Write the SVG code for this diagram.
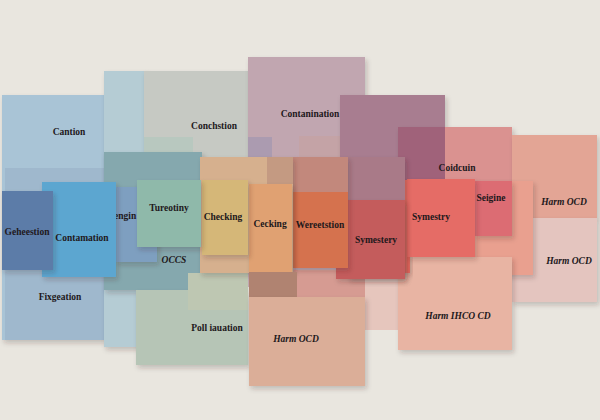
<svg xmlns="http://www.w3.org/2000/svg" width="600" height="420" viewBox="0 0 600 420">
<defs>
<filter id="sh" x="-10%" y="-10%" width="130%" height="130%">
<feDropShadow dx="2" dy="3" stdDeviation="2.5" flood-color="#3a2a20" flood-opacity="0.22"/>
</filter>
</defs>
<style>
.b{filter:url(#sh)}
.t{font-family:"Liberation Serif","DejaVu Serif",serif;font-weight:bold;font-size:9.5px;fill:#21181b;text-anchor:middle}
.i{font-style:italic}
</style>
<rect width="600" height="420" fill="#e9e6df"/>
<g id="cantion"><rect class="b" x="2" y="95" width="103" height="245" fill="#a9c4d6"/><rect x="5" y="168" width="100" height="172" fill="#9fb8cd"/><text class="t" x="69" y="135">Cantion</text><text class="t" x="60" y="300">Fixgeation</text></g>
<g id="column"><rect class="b" x="104" y="71" width="42" height="276" fill="#b5ccd4"/></g>
<g id="conchstion"><rect class="b" x="144" y="71" width="104" height="110" fill="#c6c9c3"/><rect x="144" y="137" width="49" height="30" fill="#b8c8bf"/><text class="t" x="214" y="129">Conchstion</text></g>
<g id="contanination"><rect class="b" x="248" y="57" width="117" height="230" fill="#c1a6b0"/><rect x="248" y="137" width="24" height="20" fill="#ab9bb0"/><rect x="299" y="136" width="41" height="21" fill="#c4a3a6"/><text class="t" x="310" y="116.5">Contanination</text></g>
<g id="teal"><rect class="b" x="104" y="152" width="98" height="138" fill="#85a8ae"/></g>
<g id="pollination"><rect class="b" x="136" y="290" width="112" height="75" fill="#b6c5b6"/><rect x="188" y="273" width="60" height="37" fill="#bec7b2"/><text class="t" x="217" y="330.5">Poll iauation</text></g>
<g id="purple"><rect class="b" x="340" y="95" width="105" height="105" fill="#a87d90"/></g>
<g id="coidcuin"><rect class="b" x="398" y="127" width="114" height="109" fill="#da9290"/><rect x="398" y="127" width="47" height="73" fill="#a0627a"/><text class="t" x="457" y="170.5">Coidcuin</text></g>
<g id="harm1"><rect class="b" x="512" y="135" width="85" height="83" fill="#e3a595"/><text class="t i" x="564" y="204.5">Harm OCD</text></g>
<g id="harm2"><rect class="b" x="512" y="218" width="85" height="84" fill="#e4c5bf"/><text class="t i" x="569" y="263.5">Harm OCD</text></g>
<g id="orange"><rect class="b" x="475" y="181" width="58" height="94" fill="#e9a08f"/></g>
<g id="seigine"><rect class="b" x="475" y="181" width="37" height="55" fill="#dc6c73"/><text class="t" x="491" y="200.5">Seigine</text></g>
<g id="pink"><rect x="293" y="270" width="105" height="35" fill="#d69b92"/><rect x="365" y="270" width="33" height="60" fill="#e6c6bd"/></g>
<g id="harm3"><rect class="b" x="398" y="257" width="114" height="93" fill="#e8b4a3"/><text class="t i" x="458" y="318.5">Harm IHCO CD</text></g>
<g id="strip"><rect class="b" x="398" y="180" width="12" height="93" fill="#e56a60"/></g>
<g id="symestry"><rect class="b" x="407" y="179" width="68" height="78" fill="#e56c66"/><text class="t" x="431" y="219.5">Symestry</text></g>
<g id="symestery"><rect class="b" x="348" y="157" width="57" height="122" fill="#a97a88"/><rect class="b" x="336" y="200" width="69" height="79" fill="#c45c5c"/><text class="t" x="376" y="242.5">Symestery</text></g>
<g id="wereetstion"><rect class="b" x="293" y="157" width="55" height="111" fill="#c2887c"/><rect x="293" y="192" width="55" height="76" fill="#d5724e"/><text class="t" x="320" y="227.5">Wereetstion</text></g>
<g id="tan"><rect class="b" x="200" y="157" width="93" height="116" fill="#d6b08e"/><rect x="267" y="157" width="26" height="27" fill="#c49a82"/></g>
<g id="cecking"><rect class="b" x="249" y="184" width="43" height="88" fill="#e0a172"/><text class="t" x="270" y="226.5">Cecking</text></g>
<g id="checking"><rect class="b" x="202" y="180" width="46" height="75" fill="#d5b778"/><text class="t" x="223" y="219.5">Checking</text></g>
<g id="brown"><rect x="249" y="272" width="48" height="26" fill="#b08371"/></g>
<g id="harm4"><rect class="b" x="249" y="297" width="116" height="89" fill="#dbae98"/><text class="t i" x="296" y="341.5">Harm OCD</text></g>
<g id="engin"><rect class="b" x="116" y="187" width="41" height="75" fill="#7e9fc0"/></g>
<g id="tureotiny"><rect class="b" x="137" y="180" width="64" height="67" fill="#8fb9aa"/><text class="t" x="169" y="210.5">Tureotiny</text></g>
<g id="engin-label"><text class="t" x="114" y="218.5" style="text-anchor:start">engin</text></g>
<g id="occs"><text class="t i" x="174" y="262.5">OCCS</text></g>
<g id="contamation"><rect class="b" x="42" y="182" width="74" height="95" fill="#5ba6d0"/><text class="t" x="82" y="240.5">Contamation</text></g>
<g id="geheestion"><rect class="b" x="2" y="191" width="51" height="79" fill="#5b7ba8"/><text class="t" x="27" y="234.5">Geheestion</text></g>
<g id="connectors"/>
</svg>
